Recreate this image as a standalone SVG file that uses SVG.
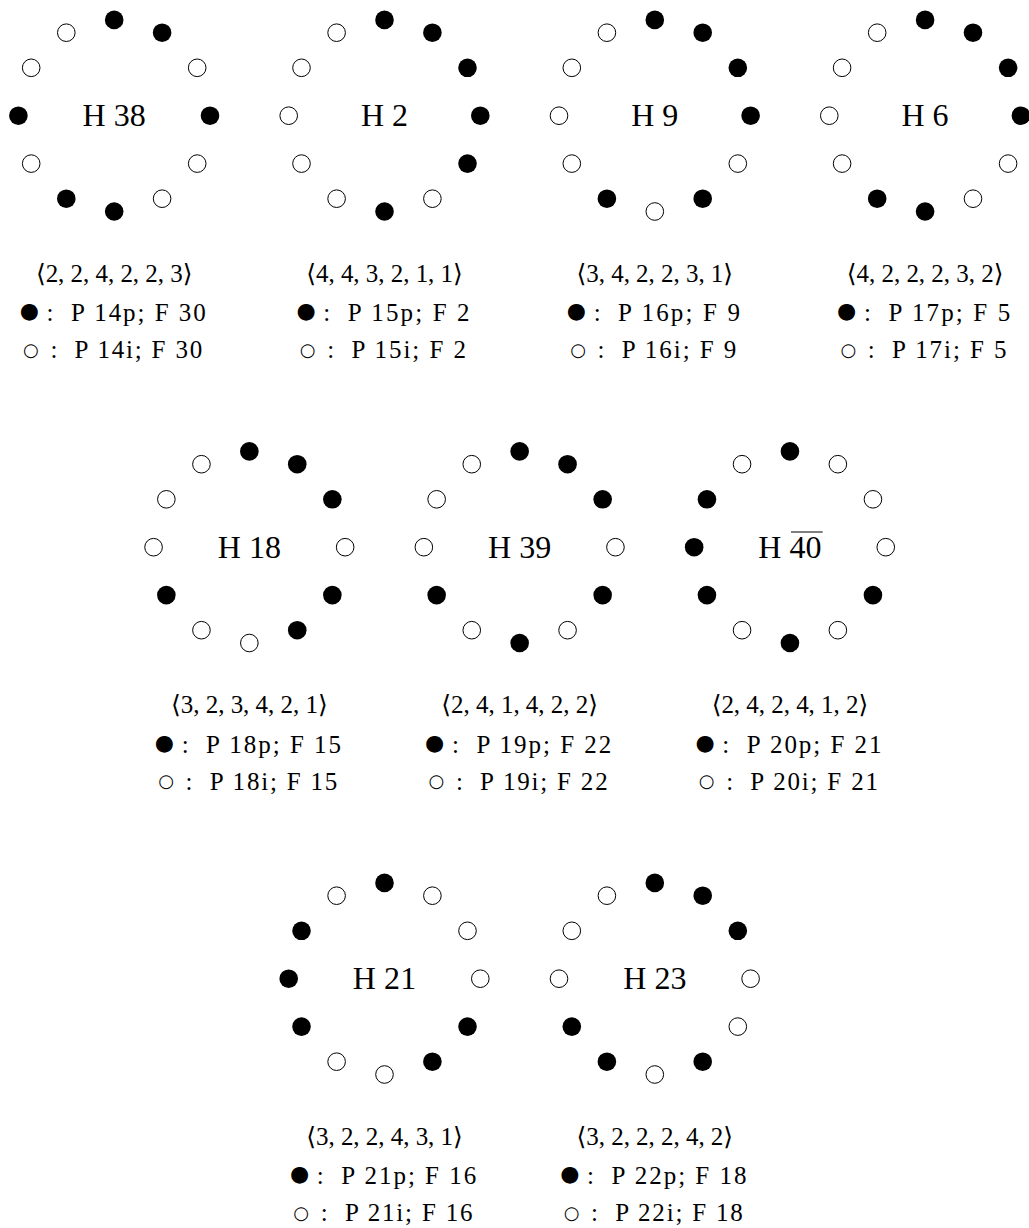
<svg xmlns="http://www.w3.org/2000/svg" width="1029" height="1228" viewBox="0 0 1029 1228">
<style>
  text { font-family: 'Liberation Serif', 'DejaVu Serif', serif; fill: #000; }
  .h { font-size: 32px; text-anchor: middle; }
  .t { font-size: 25px; }
  .m { text-anchor: middle; }
  .bf { font-family: 'DejaVu Sans', sans-serif; font-size: 22px; text-anchor: middle; }
  .bo { font-family: 'DejaVu Sans', sans-serif; font-size: 18px; text-anchor: middle; }
</style>
<defs>
  <circle id="df" r="9.3" fill="#000"/>
  <circle id="do" r="8.8" fill="#fff" stroke="#000" stroke-width="1"/>
</defs>
<rect width="1029" height="1228" fill="#fff"/>

<!-- Row 1 -->
<g id="H38" transform="translate(114.2,115.7)">
  <use href="#df" x="0" y="-95.8"/><use href="#df" x="47.9" y="-83"/><use href="#do" x="83" y="-47.9"/>
  <use href="#df" x="95.8" y="0"/><use href="#do" x="83" y="47.9"/><use href="#do" x="47.9" y="83"/>
  <use href="#df" x="0" y="95.8"/><use href="#df" x="-47.9" y="83"/><use href="#do" x="-83" y="47.9"/>
  <use href="#df" x="-95.8" y="0"/><use href="#do" x="-83" y="-47.9"/><use href="#do" x="-47.9" y="-83"/>
  <text class="h" x="0" y="10.5" textLength="63.3">H 38</text>
  <text class="t m" x="0" y="166" textLength="156.6">⟨2, 2, 4, 2, 2, 3⟩</text>
  <text class="bf" x="-84.95" y="202.6">●</text><text class="t m" x="-64.25" y="205.4">:</text>
  <text class="t" x="-43.25" y="205.4" textLength="134.9">P 14p; F 30</text>
  <text class="bo" x="-83.3" y="240">○</text><text class="t m" x="-60.3" y="242.7">:</text>
  <text class="t" x="-39.6" y="242.7" textLength="127.6">P 14i; F 30</text>
</g>

<g id="H2" transform="translate(384.5,115.7)">
  <use href="#df" x="0" y="-95.8"/><use href="#df" x="47.9" y="-83"/><use href="#df" x="83" y="-47.9"/>
  <use href="#df" x="95.8" y="0"/><use href="#df" x="83" y="47.9"/><use href="#do" x="47.9" y="83"/>
  <use href="#df" x="0" y="95.8"/><use href="#do" x="-47.9" y="83"/><use href="#do" x="-83" y="47.9"/>
  <use href="#do" x="-95.8" y="0"/><use href="#do" x="-83" y="-47.9"/><use href="#do" x="-47.9" y="-83"/>
  <text class="h" x="0" y="10.5" textLength="47">H 2</text>
  <text class="t m" x="0" y="166" textLength="156.6">⟨4, 4, 3, 2, 1, 1⟩</text>
  <text class="bf" x="-78.4" y="202.6">●</text><text class="t m" x="-57.7" y="205.4">:</text>
  <text class="t" x="-36.7" y="205.4" textLength="121.8">P 15p; F 2</text>
  <text class="bo" x="-76.8" y="240">○</text><text class="t m" x="-53.8" y="242.7">:</text>
  <text class="t" x="-33.1" y="242.7" textLength="114.6">P 15i; F 2</text>
</g>

<g id="H9" transform="translate(654.8,115.7)">
  <use href="#df" x="0" y="-95.8"/><use href="#df" x="47.9" y="-83"/><use href="#df" x="83" y="-47.9"/>
  <use href="#df" x="95.8" y="0"/><use href="#do" x="83" y="47.9"/><use href="#df" x="47.9" y="83"/>
  <use href="#do" x="0" y="95.8"/><use href="#df" x="-47.9" y="83"/><use href="#do" x="-83" y="47.9"/>
  <use href="#do" x="-95.8" y="0"/><use href="#do" x="-83" y="-47.9"/><use href="#do" x="-47.9" y="-83"/>
  <text class="h" x="0" y="10.5" textLength="47">H 9</text>
  <text class="t m" x="0" y="166" textLength="156.6">⟨3, 4, 2, 2, 3, 1⟩</text>
  <text class="bf" x="-78.4" y="202.6">●</text><text class="t m" x="-57.7" y="205.4">:</text>
  <text class="t" x="-36.7" y="205.4" textLength="121.8">P 16p; F 9</text>
  <text class="bo" x="-76.8" y="240">○</text><text class="t m" x="-53.8" y="242.7">:</text>
  <text class="t" x="-33.1" y="242.7" textLength="114.6">P 16i; F 9</text>
</g>

<g id="H6" transform="translate(925.1,115.7)">
  <use href="#df" x="0" y="-95.8"/><use href="#df" x="47.9" y="-83"/><use href="#df" x="83" y="-47.9"/>
  <use href="#df" x="95.8" y="0"/><use href="#do" x="83" y="47.9"/><use href="#do" x="47.9" y="83"/>
  <use href="#df" x="0" y="95.8"/><use href="#df" x="-47.9" y="83"/><use href="#do" x="-83" y="47.9"/>
  <use href="#do" x="-95.8" y="0"/><use href="#do" x="-83" y="-47.9"/><use href="#do" x="-47.9" y="-83"/>
  <text class="h" x="0" y="10.5" textLength="47">H 6</text>
  <text class="t m" x="0" y="166" textLength="156.6">⟨4, 2, 2, 2, 3, 2⟩</text>
  <text class="bf" x="-78.4" y="202.6">●</text><text class="t m" x="-57.7" y="205.4">:</text>
  <text class="t" x="-36.7" y="205.4" textLength="121.8">P 17p; F 5</text>
  <text class="bo" x="-76.8" y="240">○</text><text class="t m" x="-53.8" y="242.7">:</text>
  <text class="t" x="-33.1" y="242.7" textLength="114.6">P 17i; F 5</text>
</g>

<!-- Row 2 -->
<g id="H18" transform="translate(249.35,547.2)">
  <use href="#df" x="0" y="-95.8"/><use href="#df" x="47.9" y="-83"/><use href="#df" x="83" y="-47.9"/>
  <use href="#do" x="95.8" y="0"/><use href="#df" x="83" y="47.9"/><use href="#df" x="47.9" y="83"/>
  <use href="#do" x="0" y="95.8"/><use href="#do" x="-47.9" y="83"/><use href="#df" x="-83" y="47.9"/>
  <use href="#do" x="-95.8" y="0"/><use href="#do" x="-83" y="-47.9"/><use href="#do" x="-47.9" y="-83"/>
  <text class="h" x="0" y="10.5" textLength="63.3">H 18</text>
  <text class="t m" x="0" y="166" textLength="156.6">⟨3, 2, 3, 4, 2, 1⟩</text>
  <text class="bf" x="-84.95" y="202.6">●</text><text class="t m" x="-64.25" y="205.4">:</text>
  <text class="t" x="-43.25" y="205.4" textLength="134.9">P 18p; F 15</text>
  <text class="bo" x="-83.3" y="240">○</text><text class="t m" x="-60.3" y="242.7">:</text>
  <text class="t" x="-39.6" y="242.7" textLength="127.6">P 18i; F 15</text>
</g>

<g id="H39" transform="translate(519.65,547.2)">
  <use href="#df" x="0" y="-95.8"/><use href="#df" x="47.9" y="-83"/><use href="#df" x="83" y="-47.9"/>
  <use href="#do" x="95.8" y="0"/><use href="#df" x="83" y="47.9"/><use href="#do" x="47.9" y="83"/>
  <use href="#df" x="0" y="95.8"/><use href="#do" x="-47.9" y="83"/><use href="#df" x="-83" y="47.9"/>
  <use href="#do" x="-95.8" y="0"/><use href="#do" x="-83" y="-47.9"/><use href="#do" x="-47.9" y="-83"/>
  <text class="h" x="0" y="10.5" textLength="63.3">H 39</text>
  <text class="t m" x="0" y="166" textLength="156.6">⟨2, 4, 1, 4, 2, 2⟩</text>
  <text class="bf" x="-84.95" y="202.6">●</text><text class="t m" x="-64.25" y="205.4">:</text>
  <text class="t" x="-43.25" y="205.4" textLength="134.9">P 19p; F 22</text>
  <text class="bo" x="-83.3" y="240">○</text><text class="t m" x="-60.3" y="242.7">:</text>
  <text class="t" x="-39.6" y="242.7" textLength="127.6">P 19i; F 22</text>
</g>

<g id="H40" transform="translate(789.95,547.2)">
  <use href="#df" x="0" y="-95.8"/><use href="#do" x="47.9" y="-83"/><use href="#do" x="83" y="-47.9"/>
  <use href="#do" x="95.8" y="0"/><use href="#df" x="83" y="47.9"/><use href="#do" x="47.9" y="83"/>
  <use href="#df" x="0" y="95.8"/><use href="#do" x="-47.9" y="83"/><use href="#df" x="-83" y="47.9"/>
  <use href="#df" x="-95.8" y="0"/><use href="#df" x="-83" y="-47.9"/><use href="#do" x="-47.9" y="-83"/>
  <text class="h" x="0" y="10.5" textLength="63.3">H 40</text>
  <line x1="1" y1="-15.2" x2="32.7" y2="-15.2" stroke="#000" stroke-width="1.2"/>
  <text class="t m" x="0" y="166" textLength="156.6">⟨2, 4, 2, 4, 1, 2⟩</text>
  <text class="bf" x="-84.95" y="202.6">●</text><text class="t m" x="-64.25" y="205.4">:</text>
  <text class="t" x="-43.25" y="205.4" textLength="134.9">P 20p; F 21</text>
  <text class="bo" x="-83.3" y="240">○</text><text class="t m" x="-60.3" y="242.7">:</text>
  <text class="t" x="-39.6" y="242.7" textLength="127.6">P 20i; F 21</text>
</g>

<!-- Row 3 -->
<g id="H21" transform="translate(384.5,978.7)">
  <use href="#df" x="0" y="-95.8"/><use href="#do" x="47.9" y="-83"/><use href="#do" x="83" y="-47.9"/>
  <use href="#do" x="95.8" y="0"/><use href="#df" x="83" y="47.9"/><use href="#df" x="47.9" y="83"/>
  <use href="#do" x="0" y="95.8"/><use href="#do" x="-47.9" y="83"/><use href="#df" x="-83" y="47.9"/>
  <use href="#df" x="-95.8" y="0"/><use href="#df" x="-83" y="-47.9"/><use href="#do" x="-47.9" y="-83"/>
  <text class="h" x="0" y="10.5" textLength="63.3">H 21</text>
  <text class="t m" x="0" y="166" textLength="156.6">⟨3, 2, 2, 4, 3, 1⟩</text>
  <text class="bf" x="-84.95" y="202.6">●</text><text class="t m" x="-64.25" y="205.4">:</text>
  <text class="t" x="-43.25" y="205.4" textLength="134.9">P 21p; F 16</text>
  <text class="bo" x="-83.3" y="240">○</text><text class="t m" x="-60.3" y="242.7">:</text>
  <text class="t" x="-39.6" y="242.7" textLength="127.6">P 21i; F 16</text>
</g>

<g id="H23" transform="translate(654.8,978.7)">
  <use href="#df" x="0" y="-95.8"/><use href="#df" x="47.9" y="-83"/><use href="#df" x="83" y="-47.9"/>
  <use href="#do" x="95.8" y="0"/><use href="#do" x="83" y="47.9"/><use href="#df" x="47.9" y="83"/>
  <use href="#do" x="0" y="95.8"/><use href="#df" x="-47.9" y="83"/><use href="#df" x="-83" y="47.9"/>
  <use href="#do" x="-95.8" y="0"/><use href="#do" x="-83" y="-47.9"/><use href="#do" x="-47.9" y="-83"/>
  <text class="h" x="0" y="10.5" textLength="63.3">H 23</text>
  <text class="t m" x="0" y="166" textLength="156.6">⟨3, 2, 2, 2, 4, 2⟩</text>
  <text class="bf" x="-84.95" y="202.6">●</text><text class="t m" x="-64.25" y="205.4">:</text>
  <text class="t" x="-43.25" y="205.4" textLength="134.9">P 22p; F 18</text>
  <text class="bo" x="-83.3" y="240">○</text><text class="t m" x="-60.3" y="242.7">:</text>
  <text class="t" x="-39.6" y="242.7" textLength="127.6">P 22i; F 18</text>
</g>
</svg>
